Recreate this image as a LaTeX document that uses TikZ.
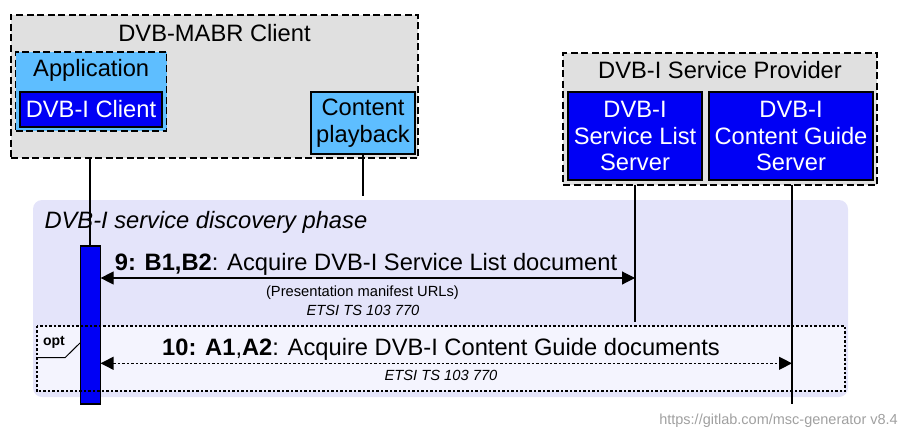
\documentclass[tikz,border=0pt]{standalone}
\usepackage{fontspec}
\setmainfont{Liberation Sans}
\usetikzlibrary{arrows.meta}
\definecolor{grayfill}{RGB}{224,224,224}
\definecolor{lblue}{RGB}{94,190,255}
\definecolor{dblue}{RGB}{0,0,245}
\definecolor{phasefill}{RGB}{228,228,250}
\definecolor{optfill}{RGB}{244,244,254}
\definecolor{wmgray}{RGB}{160,160,160}
\tikzset{
  bigtxt/.style={font=\fontsize{23.7}{26.5}\selectfont},
  grp/.style={draw=black, line width=1.3pt, dash pattern=on 7pt off 3.5pt, fill=grayfill, inner sep=0pt},
  entlight/.style={draw=black, line width=1.3pt, fill=lblue, inner sep=0pt, align=center, bigtxt},
  entdark/.style={draw=black, line width=1.3pt, fill=dblue, text=white, inner sep=0pt, align=center, bigtxt},
  lifeline/.style={draw=black, line width=1.1pt},
  msgarrow/.style={line width=1.1pt, {Triangle[length=13pt,width=13pt]}-{Triangle[length=13pt,width=13pt]}},
  dotline/.style={line width=1.5pt, dash pattern=on 2.5pt off 2pt},
  smalltxt/.style={font=\fontsize{14.7}{17}\selectfont},
}
\begin{document}
\begin{tikzpicture}[x=1pt,y=-1pt]
\useasboundingbox (0,0) rectangle (901,428);
% background phase box
\fill[phasefill, rounded corners=9pt] (33,200) rectangle (848,397);
% top groups
\node[grp, minimum width=407pt, minimum height=143pt] (client) at (214.5,86.5) {};
\node[bigtxt] (clienttitle) at (214.5,33) {DVB-MABR Client};
\node[grp, fill=lblue, minimum width=151pt, minimum height=79pt] (app) at (91.2,91.5) {};
\node[bigtxt] (apptitle) at (91.2,70) {Application};
\node[entdark, minimum width=142pt, minimum height=35pt] (dvbic) at (91,109.5) {DVB-I Client};
\node[entlight, minimum width=104pt, minimum height=62pt] (play) at (363,123) {Content\\playback};
\node[grp, minimum width=314pt, minimum height=132pt] (prov) at (720,119) {};
\node[bigtxt] (provtitle) at (720,70) {DVB-I Service Provider};
\node[entdark, minimum width=134pt, minimum height=88pt] (sls) at (635,136) {DVB-I\\Service List\\Server};
\node[entdark, minimum width=164pt, minimum height=88pt] (cgs) at (791,136) {DVB-I\\Content Guide\\Server};
% lifeline end points
\coordinate (cl1) at (90,158);
\coordinate (cl2) at (90,246);
\coordinate (pl2) at (363,196);
\coordinate (sl1) at (635,185);
\coordinate (sl2) at (635,322);
\coordinate (cg1) at (792,185);
\coordinate (cg2) at (792,404);
\draw[lifeline] (cl1) -- (cl2);
\draw[lifeline] (play.south) -- (pl2);
\draw[lifeline] (sl1) -- (sl2);
% phase title
\node[bigtxt, font=\fontsize{23.7}{26.5}\selectfont\itshape, anchor=west] (phase) at (41,222) {DVB-I service discovery phase};
% opt box fill
\node[fill=optfill, minimum width=808pt, minimum height=65pt, inner sep=0pt] (opt) at (441,358.5) {};
\draw[lifeline] (cg1) -- (cg2);
% activation bar
\node[draw=black, line width=1.1pt, fill=dblue, minimum width=20.5pt, minimum height=158pt, inner sep=0pt] (act) at (90.3,325) {};
% opt border and tag
\draw[dotline] (opt.north west) rectangle (opt.south east);
\draw[line width=1pt] (37,357.7) -- (65,357.7) -- (80,343);
\node[font=\fontsize{14}{15}\selectfont\bfseries] (opttag) at (54,342) {opt};
% message 9
\coordinate (m9a) at (100.6,278);
\coordinate (m9b) at (635,278);
\draw[msgarrow] (m9a) -- (m9b);
\node[bigtxt, anchor=base] (l9) at (366,270.5) {\textbf{9: B1,B2}: Acquire DVB-I Service List document};
\node[smalltxt, anchor=base] (l9b) at (362.5,296) {(Presentation manifest URLs)};
\node[smalltxt, font=\fontsize{14.7}{17}\selectfont\itshape, anchor=base] (l9c) at (363,315) {ETSI TS 103 770};
% message 10
\coordinate (m10a) at (100.6,363.3);
\coordinate (m10b) at (792,363.3);
\draw[msgarrow, dash pattern=on 2.5pt off 2pt, line width=1.3pt] (m10a) -- (m10b);
\node[bigtxt, anchor=base] (l10) at (441,355) {\textbf{10: A1},\textbf{A2}: Acquire DVB-I Content Guide documents};
\node[smalltxt, font=\fontsize{14.7}{17}\selectfont\itshape, anchor=base] (l10b) at (441,380) {ETSI TS 103 770};
% watermark
\node[font=\fontsize{14.5}{16}\selectfont, text=wmgray, anchor=base east, inner sep=0pt] (wm) at (898,424) {https://gitlab.com/msc-generator v8.4};
\end{tikzpicture}
\end{document}
